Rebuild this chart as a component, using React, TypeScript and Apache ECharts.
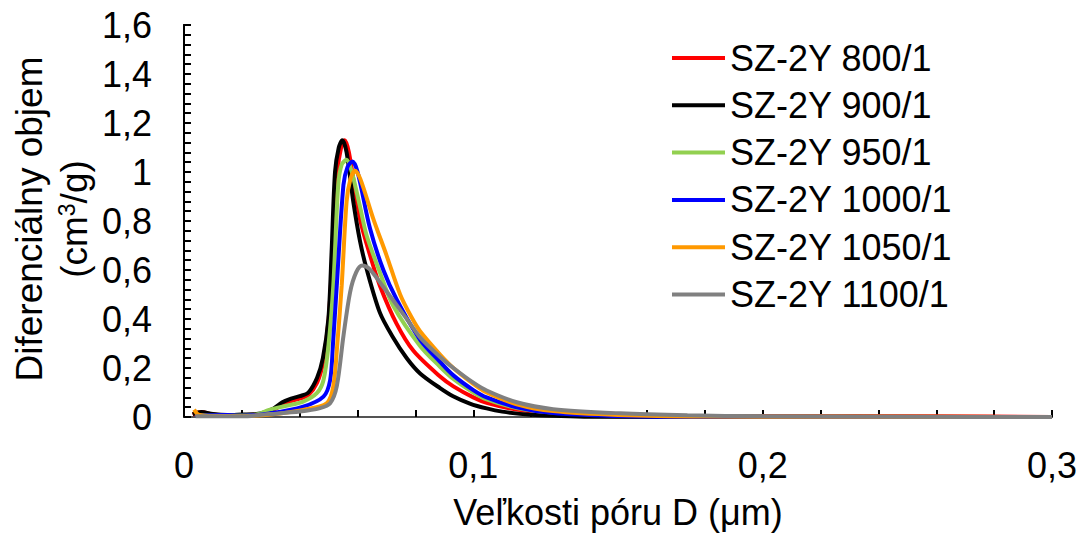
import React, { useEffect, useRef } from "react";
import * as echarts from "echarts";

const seriesNames = [
  "SZ-2Y 800/1",
  "SZ-2Y 900/1",
  "SZ-2Y 950/1",
  "SZ-2Y 1000/1",
  "SZ-2Y 1050/1",
  "SZ-2Y 1100/1",
];
const seriesColors = ["#FF0000", "#000000", "#92D050", "#0000FF", "#FF9900", "#808080"];

const s800: [number, number][] = [
  [0.003, 0.01], [0.006, 0.02], [0.01, 0.01], [0.015, 0.006], [0.02, 0.008], [0.025, 0.01],
  [0.028, 0.018], [0.031, 0.03], [0.034, 0.05], [0.037, 0.065], [0.04, 0.075], [0.043, 0.09],
  [0.046, 0.14], [0.048, 0.22], [0.05, 0.4], [0.0515, 0.7], [0.053, 1.0], [0.0543, 1.1],
  [0.0555, 1.13], [0.057, 1.08], [0.0608, 0.81], [0.0643, 0.66], [0.0677, 0.536], [0.0735, 0.38],
  [0.0793, 0.27], [0.0885, 0.165], [0.0931, 0.125], [0.1, 0.08], [0.1046, 0.058], [0.115, 0.03],
  [0.1276, 0.013], [0.15, 0.005], [0.2, 0.004], [0.26, 0.003], [0.3, 0.0],
];
const s900: [number, number][] = [
  [0.003, 0.012], [0.006, 0.02], [0.01, 0.012], [0.015, 0.008], [0.02, 0.01], [0.025, 0.012],
  [0.028, 0.02], [0.031, 0.035], [0.034, 0.06], [0.037, 0.075], [0.04, 0.085], [0.043, 0.1],
  [0.046, 0.16], [0.048, 0.24], [0.0499, 0.4], [0.051, 0.67], [0.0522, 1.0], [0.0535, 1.1],
  [0.0547, 1.13], [0.0562, 1.08], [0.0585, 0.88], [0.0608, 0.72], [0.0631, 0.605], [0.0677, 0.426],
  [0.072, 0.33], [0.077, 0.24], [0.0816, 0.178], [0.0885, 0.118], [0.093, 0.085], [0.0988, 0.055],
  [0.1046, 0.035], [0.11, 0.022], [0.12, 0.009], [0.13, 0.004], [0.14, 0.001], [0.2, 0.0], [0.3, 0.0],
];
const s950: [number, number][] = [
  [0.004, 0.008], [0.01, 0.006], [0.02, 0.006], [0.025, 0.01], [0.0297, 0.03], [0.035, 0.045],
  [0.0412, 0.063], [0.0459, 0.097], [0.0482, 0.15], [0.05, 0.3], [0.0516, 0.536], [0.0533, 0.947],
  [0.0545, 1.03], [0.0562, 1.05], [0.058, 1.0], [0.0608, 0.86], [0.0631, 0.742], [0.0677, 0.59],
  [0.0723, 0.454], [0.0816, 0.29], [0.0885, 0.205], [0.0931, 0.155], [0.1, 0.1], [0.1046, 0.072],
  [0.115, 0.037], [0.1276, 0.018], [0.15, 0.007], [0.18, 0.003], [0.3, 0.0],
];
const s1000: [number, number][] = [
  [0.004, 0.005], [0.015, 0.008], [0.02, 0.005], [0.03, 0.015], [0.0412, 0.042], [0.0482, 0.083],
  [0.0505, 0.15], [0.0515, 0.3], [0.0528, 0.536], [0.0551, 0.947], [0.0565, 1.02], [0.0582, 1.043],
  [0.06, 1.0], [0.0643, 0.769], [0.0689, 0.6], [0.0735, 0.48], [0.0816, 0.315], [0.0885, 0.225],
  [0.0931, 0.17], [0.1, 0.11], [0.1046, 0.08], [0.115, 0.04], [0.1276, 0.016], [0.15, 0.004],
  [0.17, 0.001], [0.3, 0.0],
];
const s1050: [number, number][] = [
  [0.0035, 0.03], [0.005, 0.01], [0.01, 0.004], [0.02, 0.004], [0.03, 0.01], [0.0412, 0.029],
  [0.0493, 0.056], [0.0516, 0.125], [0.053, 0.3], [0.0545, 0.536], [0.0562, 0.879], [0.0575, 0.97],
  [0.0591, 1.005], [0.061, 0.97], [0.0654, 0.81], [0.07, 0.66], [0.0747, 0.5], [0.0785, 0.41],
  [0.0816, 0.35], [0.0885, 0.255], [0.0931, 0.2], [0.1, 0.135], [0.1046, 0.1], [0.115, 0.052],
  [0.1276, 0.024], [0.15, 0.008], [0.18, 0.002], [0.3, 0.0],
];
const s1100: [number, number][] = [
  [0.004, 0.003], [0.02, 0.003], [0.0297, 0.012], [0.04, 0.022], [0.047, 0.036], [0.0505, 0.056],
  [0.0528, 0.125], [0.0551, 0.33], [0.0574, 0.509], [0.0595, 0.59], [0.0616, 0.618], [0.064, 0.605],
  [0.0677, 0.55], [0.077, 0.4], [0.0816, 0.325], [0.0885, 0.245], [0.0931, 0.2], [0.1, 0.14],
  [0.1046, 0.108], [0.115, 0.06], [0.1276, 0.032], [0.1507, 0.015], [0.174, 0.007], [0.2, 0.003],
  [0.25, 0.001], [0.3, 0.0],
];
const seriesData = [s800, s900, s950, s1000, s1050, s1100];

const xTitle = "Veľkosti póru D (μm)";
const yTitleLine1 = "Diferenciálny objem";
const yTitleLine2 = "(cm{sup|3}/g)";

const FONT = "'Liberation Sans', Arial, sans-serif";

function fmt(v: number): string {
  const r = Math.round(v * 10) / 10;
  return String(r).replace(".", ",");
}

export default function App() {
  const ref = useRef<HTMLDivElement>(null);
  useEffect(() => {
    document.body.style.margin = "0";
    if (!ref.current) return;
    const chart = echarts.init(ref.current, undefined, { renderer: "svg" });
    chart.setOption({
      animation: false,
      backgroundColor: "#ffffff",
      textStyle: { fontFamily: FONT },
      grid: { left: 184, right: 33, top: 25, bottom: 120 },
      legend: {
        orient: "vertical",
        left: 667,
        top: 33,
        icon: "rect",
        itemWidth: 53,
        itemHeight: 4,
        itemGap: 7.3,
        data: seriesNames,
        textStyle: { fontFamily: FONT, fontSize: 36, color: "#000", lineHeight: 40 },
      },
      xAxis: [
        {
          type: "value",
          min: 0,
          max: 0.3,
          interval: 0.1,
          name: xTitle,
          nameLocation: "middle",
          nameGap: 77,
          nameTextStyle: { fontFamily: FONT, fontSize: 36, color: "#000" },
          axisLine: { lineStyle: { color: "#000", width: 2 } },
          axisTick: { show: true, inside: true, length: 7, lineStyle: { color: "#000", width: 2 } },
          minorTick: { show: true, splitNumber: 5, length: 7, lineStyle: { color: "#000", width: 2 } },
          axisLabel: { fontFamily: FONT, fontSize: 36, color: "#000", margin: 30, formatter: fmt },
          splitLine: { show: false },
        },
        {
          type: "value",
          position: "top",
          min: 0,
          max: 0.3,
          axisLine: { show: true, lineStyle: { color: "#707070", width: 1.5 } },
          axisTick: { show: false },
          axisLabel: { show: false },
          splitLine: { show: false },
        },
      ],
      yAxis: [
        {
          type: "value",
          min: 0,
          max: 1.6,
          interval: 0.2,
          axisLine: { show: true, lineStyle: { color: "#000", width: 2 } },
          axisTick: { show: true, inside: true, length: 7, lineStyle: { color: "#000", width: 2 } },
          minorTick: { show: true, splitNumber: 5, length: 7, lineStyle: { color: "#000", width: 2 } },
          axisLabel: { fontFamily: FONT, fontSize: 36, color: "#000", margin: 32, formatter: fmt },
          splitLine: { show: false },
        },
        {
          type: "value",
          position: "right",
          min: 0,
          max: 1.6,
          axisLine: { show: true, lineStyle: { color: "#000", width: 2 } },
          axisTick: { show: false },
          axisLabel: { show: false },
          splitLine: { show: false },
        },
      ],
      graphic: [
        {
          type: "text",
          x: 29,
          y: 219,
          rotation: Math.PI / 2,
          style: {
            text: yTitleLine1,
            font: `37px ${FONT}`,
            fill: "#000",
            align: "center",
            verticalAlign: "middle",
          },
        },
        {
          type: "text",
          x: 74,
          y: 219,
          rotation: Math.PI / 2,
          style: {
            text: yTitleLine2,
            fontFamily: FONT,
            fontSize: 37,
            fill: "#000",
            align: "center",
            verticalAlign: "middle",
            rich: {
              sup: { fontFamily: FONT, fontSize: 23, lineHeight: 23, verticalAlign: "top" },
            },
          },
        },
      ],
      series: seriesNames.map((name, i) => ({
        name,
        type: "line",
        data: seriesData[i],
        xAxisIndex: 0,
        yAxisIndex: 0,
        smooth: 0.3,
        symbol: "none",
        showSymbol: false,
        color: seriesColors[i],
        lineStyle: { color: seriesColors[i], width: 4 },
      })),
    });
    return () => chart.dispose();
  }, []);
  return <div ref={ref} style={{ width: 1085, height: 537 }} />;
}
